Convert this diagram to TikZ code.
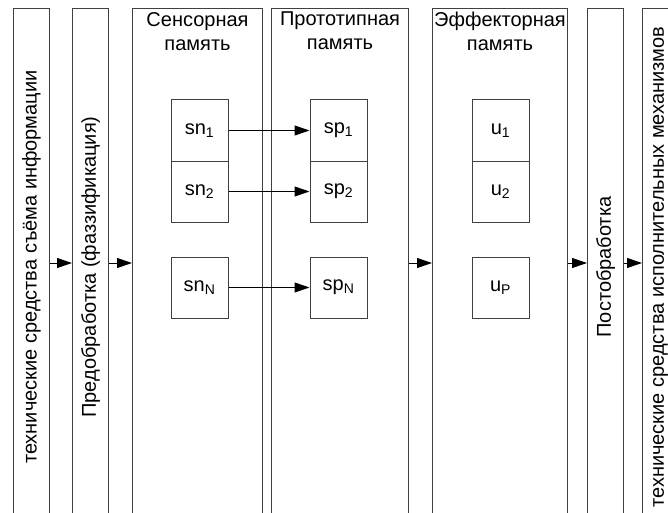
\documentclass[tikz,border=0pt]{standalone}
\usepackage{fontspec}
\setmainfont{Liberation Sans}
\usetikzlibrary{arrows.meta}
\begin{document}
\begin{tikzpicture}[x=1pt,y=-1pt,
  col/.style={draw=black!75, line width=1pt, fill=white, inner sep=0pt,
    minimum height=517pt, anchor=north west},
  cell/.style={draw=black!75, line width=1pt, inner sep=0pt,
    minimum width=57pt, minimum height=61pt,
    font=\fontsize{20}{24}\selectfont},
  vtext/.style={rotate=90, font=\fontsize{20}{24}\selectfont, inner sep=0pt},
  ttl/.style={align=center, font=\fontsize{20}{24}\selectfont, inner sep=0pt, anchor=north},
  arr/.style={line width=1pt, -{Triangle[length=15pt,width=10pt]}}]
\useasboundingbox (0,0) rectangle (668,513);
\clip (0,0) rectangle (668,513);

% vertical stages
\node[col, minimum width=36pt]  (c1)  at (13,8)  {};
\node[col, minimum width=36pt]  (c2)  at (72,8)  {};
\node[col, minimum width=130pt] (sen) at (132,8) {};
\node[col, minimum width=137pt] (pro) at (271,8) {};
\node[col, minimum width=135pt] (eff) at (432,8) {};
\node[col, minimum width=36pt]  (c6)  at (587,8) {};
\node[col, minimum width=36pt]  (c7)  at (642,8) {};

% stage captions
\node[vtext] (t1) at (c1.center) {технические средства съёма информации};
\node[vtext] (t2) at (c2.center) {Предобработка (фаззификация)};
\node[vtext] (t6) at (c6.center) {Постобработка};
\node[vtext] (t7) at (c7.center) {технические средства исполнительных механизмов};
\node[ttl] (ts) at (sen.north |- 0,12) {Сенсорная\\память};
\node[ttl] (tp) at (pro.north |- 0,12) {Прототипная\\память};
\node[ttl] (te) at (eff.north |- 0,12) {Эффекторная\\память};

% memory cells
\node[cell] (sn1) at (199.5,130.5) {sn\textsubscript{1}};
\node[cell] (sn2) at (199.5,191.5) {sn\textsubscript{2}};
\node[cell] (snN) at (199.5,287.5) {sn\textsubscript{N}};
\node[cell] (sp1) at (338.5,130.5) {sp\textsubscript{1}};
\node[cell] (sp2) at (338.5,191.5) {sp\textsubscript{2}};
\node[cell] (spN) at (338.5,287.5) {sp\textsubscript{N}};
\node[cell] (u1)  at (500.5,130.5) {u\textsubscript{1}};
\node[cell] (u2)  at (500.5,191.5) {u\textsubscript{2}};
\node[cell] (uP)  at (500.5,287.5) {u\textsubscript{P}};

\draw[arr] (sn1) -- (sp1);
\draw[arr] (sn2) -- (sp2);
\draw[arr] (snN) -- (spN);

% flow between stages
\coordinate (flow) at (0,263);
\draw[arr] (c1.east |- flow)  -- (c2.west |- flow);
\draw[arr] (c2.east |- flow)  -- (sen.west |- flow);
\draw[arr] (pro.east |- flow) -- (eff.west |- flow);
\draw[arr] (eff.east |- flow) -- (c6.west |- flow);
\draw[arr] (c6.east |- flow)  -- (c7.west |- flow);
\end{tikzpicture}
\end{document}
